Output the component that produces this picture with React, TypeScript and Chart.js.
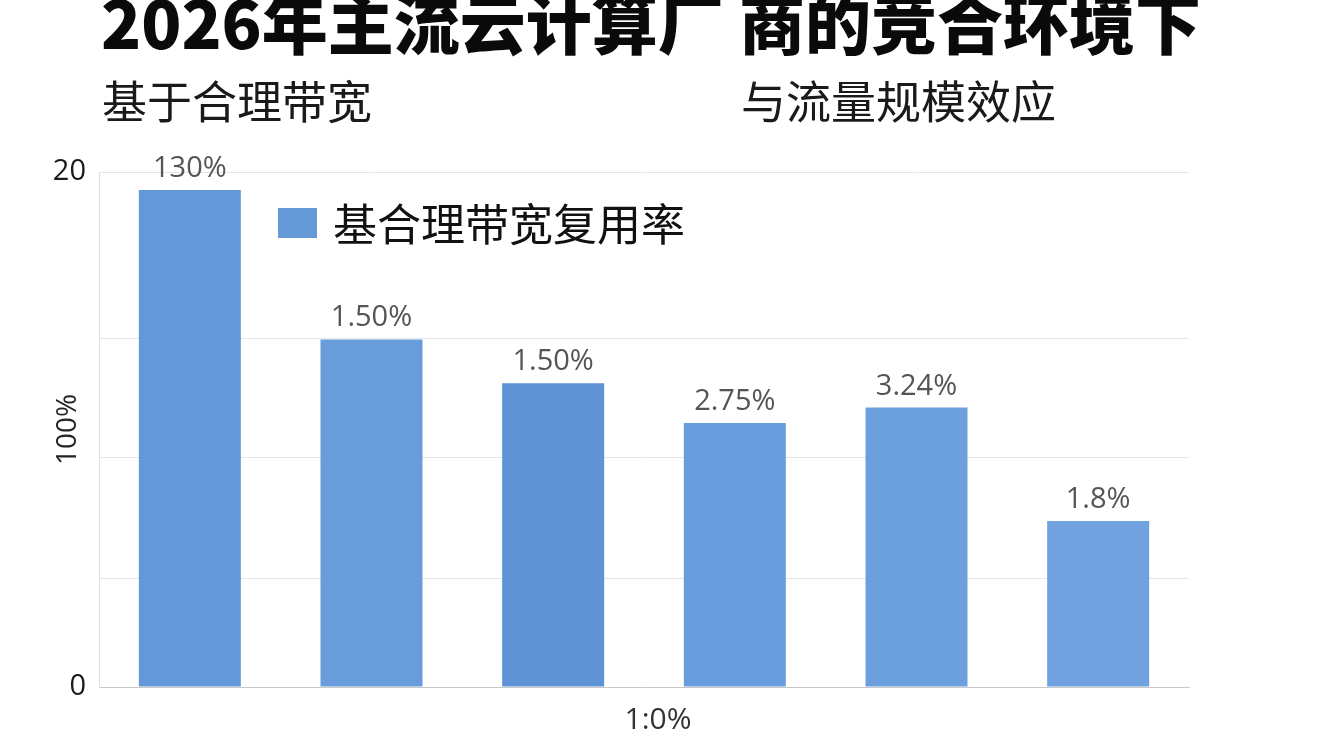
import { useEffect, useRef } from "react";
import Chart from "chart.js/auto";

const title = "2026年主流云计算厂 商的竞合环境下";
const subLeft = "基于合理带宽";
const subRight = "与流量规模效应";
const seriesName = "基合理带宽复用率";
const barLabels = ["130%", "1.50%", "1.50%", "2.75%", "3.24%", "1.8%"];
const barValues = [19.3, 13.5, 11.8, 10.25, 10.85, 6.45];
const gridValues = [0, 4.2, 8.9, 13.55, 20];
const shownTicks = [0, 20];
const yTitle = "100%";
const xTitle = "1:0%";

const barColors = ["#6598d9", "#699cdb", "#5f93d6", "#6a9ddd", "#6c9fde", "#70a2df"];

// value text above each bar, plus the x caption under the axis
const valueLabels = {
  id: "valueLabels",
  afterDatasetsDraw(chart: any) {
    const { ctx, chartArea } = chart;
    const meta = chart.getDatasetMeta(0);
    ctx.save();
    ctx.font = '29px "Open Sans", sans-serif';
    ctx.fillStyle = "#555";
    ctx.textAlign = "center";
    ctx.textBaseline = "alphabetic";
    meta.data.forEach((bar: any, i: number) => {
      ctx.fillText(barLabels[i], bar.x, bar.y - 13);
    });
    ctx.font = '30px "Open Sans", sans-serif';
    ctx.fillStyle = "#333";
    ctx.textBaseline = "middle";
    ctx.fillText(xTitle, (chartArea.left + chartArea.right) / 2 + 14, chartArea.bottom + 33);
    ctx.restore();
  },
};

// legend sits inside the plot area
const innerLegend = {
  id: "innerLegend",
  afterDraw(chart: any) {
    const { ctx, chartArea } = chart;
    const label = chart.data.datasets[0].label;
    const x = chartArea.left + 179;
    const y = chartArea.top + 36;
    ctx.save();
    ctx.fillStyle = "#6699d8";
    ctx.fillRect(x, y, 39, 30);
    ctx.font = '44px "Noto Sans CJK SC", sans-serif';
    ctx.fillStyle = "#111";
    ctx.textBaseline = "middle";
    ctx.fillText(label, x + 55, y + 16);
    ctx.restore();
  },
};

export default function App() {
  const canvasRef = useRef<HTMLCanvasElement>(null);

  useEffect(() => {
    if (!canvasRef.current) return;

    const chart = new Chart(canvasRef.current, {
      type: "bar",
      data: {
        labels: barLabels,
        datasets: [
          {
            label: seriesName,
            data: barValues,
            backgroundColor: barColors,
            borderWidth: 0,
            barPercentage: 0.5615,
            categoryPercentage: 1,
          },
        ],
      },
      options: {
        animation: false,
        responsive: true,
        maintainAspectRatio: false,
        layout: { padding: { top: 172, right: 155, left: 0, bottom: 0 } },
        plugins: {
          legend: { display: false },
          tooltip: { enabled: false },
        },
        scales: {
          x: {
            grid: { display: false },
            border: { display: true, color: "#c8c8c8" },
            ticks: { display: false },
            afterFit(scale: any) {
              scale.height = 63;
            },
          },
          y: {
            min: 0,
            max: 20,
            afterBuildTicks(scale: any) {
              scale.ticks = gridValues.map((v) => ({ value: v }));
            },
            grid: {
              drawTicks: false,
              color: (c: any) => (c.tick && c.tick.value === 0 ? "#c8c8c8" : "#e6e6e6"),
            },
            border: { color: "#dedede" },
            ticks: {
              padding: 13,
              color: "#1a1a1a",
              font: { family: '"Open Sans", sans-serif', size: 29 },
              callback: (v: any) => (shownTicks.includes(Number(v)) ? String(v) : ""),
            },
            title: {
              display: true,
              text: yTitle,
              color: "#222",
              font: { family: '"Open Sans", sans-serif', size: 28 },
              padding: { top: 51, bottom: 0 },
            },
            afterFit(scale: any) {
              scale.width = 99;
            },
          },
        },
      },
      plugins: [valueLabels, innerLegend],
    });

    return () => chart.destroy();
  }, []);

  return (
    <div
      style={{
        position: "absolute",
        left: 0,
        top: 0,
        width: 1344,
        height: 750,
        background: "#fff",
        overflow: "hidden",
        fontFamily: '"Noto Sans CJK SC", sans-serif',
      }}
    >
      <div style={{ position: "absolute", left: 0, top: 0, width: 1344, height: 750 }}>
        <canvas ref={canvasRef} />
      </div>
      <div
        style={{
          position: "absolute",
          left: 101,
          top: -13,
          fontSize: 66,
          fontWeight: 900,
          lineHeight: 1,
          whiteSpace: "pre",
          color: "#0a0a0a",
        }}
      >
        {title}
      </div>
      <div style={{ position: "absolute", left: 102, top: 77, fontSize: 45, lineHeight: 1, color: "#1a1a1a" }}>
        {subLeft}
      </div>
      <div style={{ position: "absolute", left: 741, top: 77, fontSize: 45, lineHeight: 1, color: "#1a1a1a" }}>
        {subRight}
      </div>
    </div>
  );
}
